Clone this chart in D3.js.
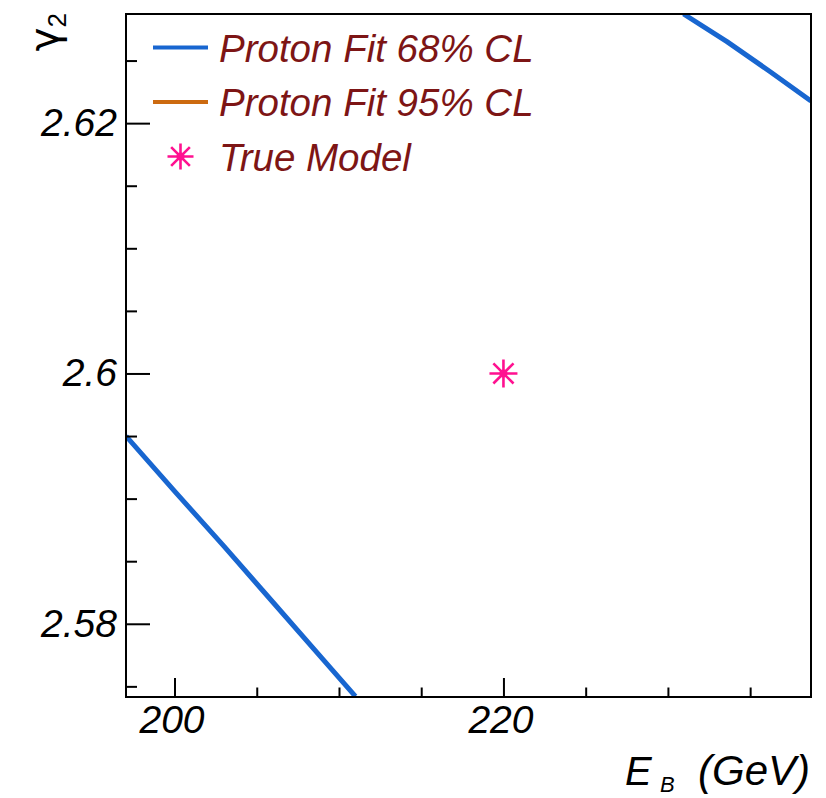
<!DOCTYPE html>
<html>
<head>
<meta charset="utf-8">
<script src="https://cdn.jsdelivr.net/npm/d3@7"></script>
<style>
  body { margin: 0; background: #fff; }
  text { font-family: "Liberation Sans", Arial, sans-serif; }
</style>
</head>
<body>
<svg id="chart" width="826" height="798"></svg>
<script>
// contour of the 68% CL proton fit (two branches visible in this window)
const lowerE = [197.05, 200, 203, 206, 209, 211.0]
const lowerG = [2.5950, 2.5906, 2.5862, 2.5817, 2.5772, 2.5742]
const upperE = [230.95, 233.59, 236.22, 238.70]
const upperG = [2.62872, 2.62651, 2.62411, 2.62177]

// true model point
const trueE = [220]
const trueG = [2.6]

const xMajor = [200, 220]
const xMinor = [205, 210, 215, 225, 230, 235]
const yMajor = [2.58, 2.6, 2.62]
const yMinor = [2.575, 2.585, 2.59, 2.595, 2.605, 2.61, 2.615, 2.625]

const legendLabels = ['Proton Fit 68% CL', 'Proton Fit 95% CL', 'True Model']

const svg = d3.select('#chart')

const padLeft = 126, padRight = 811, padTop = 14, padBottom = 697

const x = d3.scaleLinear().domain([197.05, 238.7]).range([padLeft, padRight])
const y = d3.scaleLinear().domain([2.57415, 2.62872]).range([padBottom, padTop])

const blue = '#1866d0'
const orange = '#cc6a10'
const pink = '#ff1190'
const legendColor = '#7d1515'

// clip for the curves
svg.append('clipPath').attr('id', 'plot-clip')
  .append('rect')
  .attr('x', padLeft).attr('y', padTop)
  .attr('width', padRight - padLeft).attr('height', padBottom - padTop)

const line = d3.line().x(d => x(d[0])).y(d => y(d[1]))

const curves = [
  d3.zip(lowerE, lowerG),
  d3.zip(upperE, upperG)
]

svg.append('g')
  .attr('clip-path', 'url(#plot-clip)')
  .selectAll('path')
  .data(curves)
  .enter()
  .append('path')
  .attr('d', line)
  .attr('fill', 'none')
  .attr('stroke', blue)
  .attr('stroke-width', 5)
  .attr('stroke-linejoin', 'round')

// asterisk marker like ROOT style 3
function asterisk(g, cx, cy, r) {
  const d = r * 0.72
  g.append('path')
    .attr('d', `M${cx - r},${cy}H${cx + r}M${cx},${cy - r}V${cy + r}` +
      `M${cx - d},${cy - d}L${cx + d},${cy + d}M${cx - d},${cy + d}L${cx + d},${cy - d}`)
    .attr('stroke', pink)
    .attr('stroke-width', 2.6)
    .attr('fill', 'none')
  g.append('circle')
    .attr('cx', cx).attr('cy', cy).attr('r', 4)
    .attr('fill', pink)
}

const markers = svg.append('g')
trueE.forEach((e, i) => asterisk(markers, x(e), y(trueG[i]), 14))

// axes
const fontTick = 39

const xAxisMajor = d3.axisBottom(x).tickValues(xMajor).tickSize(-19).tickPadding(10)
  .tickFormat(d => String(d))
const xAxisMinor = d3.axisBottom(x).tickValues(xMinor).tickSize(-9.5).tickFormat('')

const gx = svg.append('g').attr('transform', `translate(0,${padBottom})`).call(xAxisMajor)
svg.append('g').attr('transform', `translate(0,${padBottom})`).call(xAxisMinor)

const yAxisMajor = d3.axisLeft(y).tickValues(yMajor).tickSize(-24).tickPadding(10)
  .tickFormat(d => String(d))
const yAxisMinor = d3.axisLeft(y).tickValues(yMinor).tickSize(-11).tickFormat('')

const gy = svg.append('g').attr('transform', `translate(${padLeft},0)`).call(yAxisMajor)
svg.append('g').attr('transform', `translate(${padLeft},0)`).call(yAxisMinor)

svg.selectAll('.domain').remove()
svg.selectAll('.tick line').attr('stroke', '#000').attr('stroke-width', 2)

gx.selectAll('.tick text')
  .attr('font-size', fontTick)
  .attr('font-style', 'italic')
  .attr('fill', '#000')
  .attr('dx', -3)
  .attr('dy', '0.66em')
gy.selectAll('.tick text')
  .attr('font-size', fontTick)
  .attr('font-style', 'italic')
  .attr('fill', '#000')
  .attr('x', -9)

// frame
svg.append('rect')
  .attr('x', padLeft).attr('y', padTop)
  .attr('width', padRight - padLeft).attr('height', padBottom - padTop)
  .attr('fill', 'none')
  .attr('stroke', '#000')
  .attr('stroke-width', 2)

// axis titles
const xt = svg.append('g')
  .attr('font-style', 'italic')
  .attr('fill', '#000')
xt.append('text').attr('x', 625).attr('y', 785).attr('font-size', 40).text('E')
xt.append('text').attr('x', 660).attr('y', 792).attr('font-size', 22).text('B')
xt.append('text').attr('x', 810).attr('y', 785).attr('font-size', 42)
  .attr('text-anchor', 'end').text('(GeV)')

const yt = svg.append('text')
  .attr('transform', `translate(58,${padTop - 1}) rotate(-90)`)
  .attr('text-anchor', 'end')
  .attr('font-size', 40)
  .attr('fill', '#000')
  .style('font-family', '"DejaVu Sans", sans-serif')
yt.append('tspan').text('γ')
yt.append('tspan').attr('font-size', 26).attr('dy', 8)
  .style('font-family', '"Liberation Sans", Arial, sans-serif').text('2')

// legend
const legend = svg.append('g')
const rowY = d => 47.5 + d * 54.5
legendLabels.forEach((label, i) => {
  if (i < 2) {
    legend.append('line')
      .attr('x1', 153).attr('x2', 208)
      .attr('y1', rowY(i)).attr('y2', rowY(i))
      .attr('stroke', i === 0 ? blue : orange)
      .attr('stroke-width', 4)
  } else {
    asterisk(legend, 180.5, rowY(i), 13)
  }
  legend.append('text')
    .attr('x', 219).attr('y', rowY(i) + 14)
    .attr('font-size', 38.5)
    .attr('font-style', 'italic')
    .attr('fill', legendColor)
    .text(label)
})
</script>
</body>
</html>
